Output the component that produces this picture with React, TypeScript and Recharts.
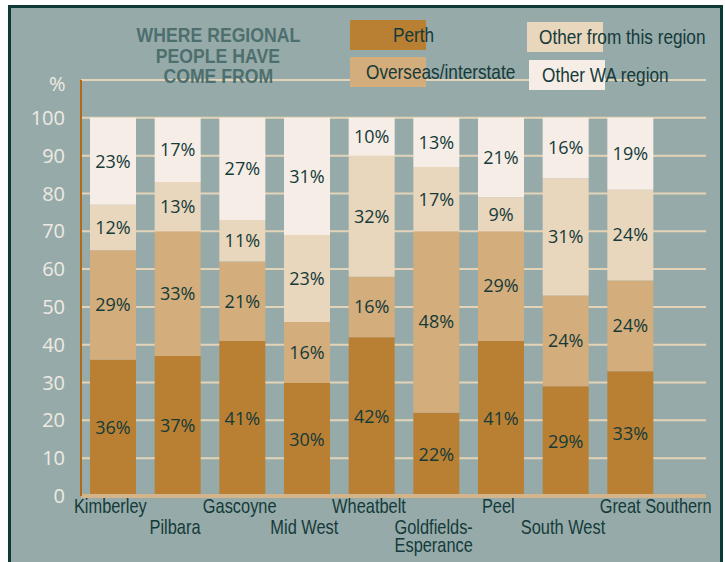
import { BarChart, Bar, XAxis, YAxis, CartesianGrid, LabelList } from "recharts";

const regions = [
  "Kimberley",
  "Pilbara",
  "Gascoyne",
  "Mid West",
  "Wheatbelt",
  "Goldfields-Esperance",
  "Peel",
  "South West",
  "Great Southern",
];

// percentages (bottom to top)
const perth = [36, 37, 41, 30, 42, 22, 41, 29, 33];
const overseas = [29, 33, 21, 16, 16, 48, 29, 24, 24];
const otherThisRegion = [12, 13, 11, 23, 32, 17, 9, 31, 24];
const otherWA = [23, 17, 27, 31, 10, 13, 21, 16, 19];

const yTicks = [0, 10, 20, 30, 40, 50, 60, 70, 80, 90, 100];

const titleLines = ["WHERE REGIONAL", "PEOPLE HAVE", "COME FROM"];

const series = [
  { key: "perth", name: "Perth", color: "#b98033" },
  { key: "overseas", name: "Overseas/interstate", color: "#d3ad7c" },
  { key: "otherThisRegion", name: "Other from this region", color: "#e8d6bd" },
  { key: "otherWA", name: "Other WA region", color: "#f6eee6" },
];

// where each legend box sits in the header (swatch box + text offset)
const legendLayout: Record<string, { left: number; top: number; textLeft: number }> = {
  perth: { left: 350, top: 20, textLeft: 393 },
  overseas: { left: 350, top: 57, textLeft: 366 },
  otherThisRegion: { left: 527, top: 22, textLeft: 539 },
  otherWA: { left: 529, top: 60, textLeft: 542 },
};

const data = regions.map((region, i) => ({
  region,
  perth: perth[i],
  overseas: overseas[i],
  otherThisRegion: otherThisRegion[i],
  otherWA: otherWA[i],
}));

// no condensed font installed, so squeeze Liberation Sans horizontally
const sans = "'Liberation Sans', Arial, sans-serif";
const squeeze = 0.82;
const darkText = "#143a39";

const Narrow = ({ children, origin = "left center", scale = squeeze }: any) => (
  <span
    style={{
      display: "inline-block",
      whiteSpace: "nowrap",
      fontFamily: sans,
      transform: `scaleX(${scale})`,
      transformOrigin: origin,
    }}
  >
    {children}
  </span>
);

// x labels alternate between two rows, long names wrap after the hyphen
const RegionTick = ({ x, y, payload, index }: any) => {
  const name: string = payload.value;
  const cut = name.indexOf("-");
  const lines = cut >= 0 ? [name.slice(0, cut + 1), name.slice(cut + 1)] : [name];
  const rowY = index % 2 === 0 ? 17 : 38;
  const isLast = index === regions.length - 1;
  return (
    <text
      transform={`translate(${isLast ? x - 31 : x - 3}, ${y + rowY}) scale(${squeeze}, 1)`}
      textAnchor={isLast ? "start" : "middle"}
      fill={darkText}
      fontFamily={sans}
      fontSize={20}
    >
      {lines.map((l, j) => (
        <tspan key={j} x={0} dy={j === 0 ? 0 : 18}>
          {l}
        </tspan>
      ))}
    </text>
  );
};

export default function App() {
  return (
    <div style={{ position: "absolute", left: 0, top: 0, width: 725, height: 562, background: "#fff", overflow: "hidden" }}>
      <div
        style={{
          position: "absolute",
          left: 8,
          top: 5,
          width: 709,
          height: 570,
          border: "3px solid #0d3a37",
          background: "#96aaa9",
        }}
      />
      <div style={{ position: "absolute", left: 0, top: 0 }}>
        <BarChart
          width={725}
          height={562}
          data={data}
          margin={{ top: 80, right: 19, left: 0, bottom: 0 }}
          barSize={46}
        >
          <CartesianGrid vertical={false} stroke="#e3d3b8" strokeWidth={2} />
          <XAxis
            dataKey="region"
            interval={0}
            height={66}
            tickLine={false}
            tickSize={0}
            tickMargin={0}
            padding={{ left: 0, right: 43 }}
            axisLine={{ stroke: "#d4b48a", strokeWidth: 4 }}
            tick={<RegionTick />}
          />
          <YAxis
            width={81}
            domain={[0, 110]}
            ticks={yTicks}
            allowDataOverflow
            tickLine={false}
            tickSize={0}
            tickMargin={16}
            axisLine={{ stroke: "#b06a1a", strokeWidth: 2 }}
            tick={{ fill: "#eeeae2", fontSize: 20, fontFamily: "'Open Sans', sans-serif" }}
          />
          {series.map((s) => (
            <Bar key={s.key} dataKey={s.key} stackId="a" fill={s.color} isAnimationActive={false}>
              <LabelList
                dataKey={s.key}
                position="center"
                formatter={(v: any) => `${v}%`}
                fill={darkText}
                fontSize={18}
                fontFamily="'Open Sans', sans-serif"
              />
            </Bar>
          ))}
        </BarChart>
      </div>

      {/* title */}
      <div style={{ position: "absolute", left: 118, top: 24, width: 200, fontWeight: 700, fontSize: 21, color: "#4d6f6e" }}>
        {titleLines.map((t) => (
          <div key={t} style={{ width: 200, height: 20.5, lineHeight: "21px", textAlign: "center" }}>
            <Narrow origin="center center" scale={0.84}>
              {t}
            </Narrow>
          </div>
        ))}
      </div>

      {/* legend */}
      {series.map((s) => {
        const pos = legendLayout[s.key];
        return (
          <div key={s.key}>
            <div
              style={{ position: "absolute", left: pos.left, top: pos.top, width: 76, height: 30, background: s.color }}
            />
            <div
              style={{
                position: "absolute",
                left: pos.textLeft,
                top: pos.top,
                height: 30,
                lineHeight: "30px",
                fontSize: 21,
                color: darkText,
              }}
            >
              <Narrow>{s.name}</Narrow>
            </div>
          </div>
        );
      })}

      <div
        style={{
          position: "absolute",
          left: 49,
          top: 70,
          fontFamily: "'Open Sans', sans-serif",
          fontSize: 20,
          color: "#eeeae2",
        }}
      >
        %
      </div>
    </div>
  );
}
